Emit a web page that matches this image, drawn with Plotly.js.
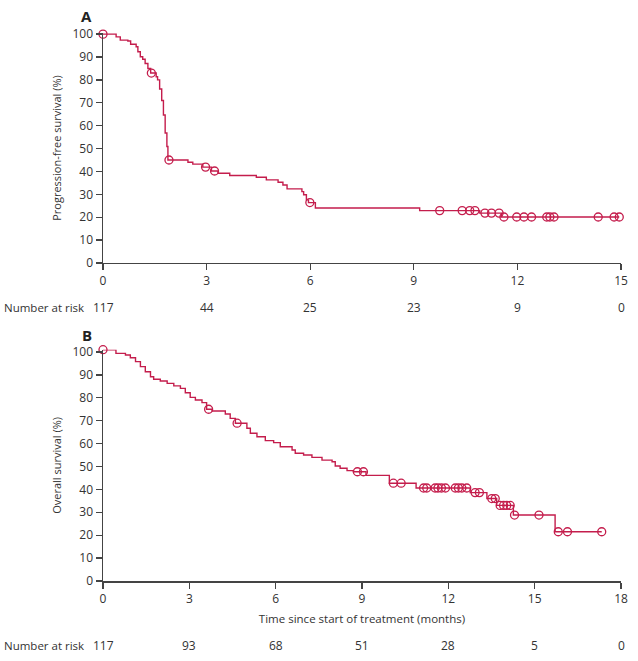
<!DOCTYPE html>
<html>
<head>
<meta charset="utf-8">
<script src="https://cdn.plot.ly/plotly-3.0.1.min.js"></script>
<style>
  html, body { margin: 0; padding: 0; background: #fff; }
  #chart { width: 638px; height: 661px; }
</style>
</head>
<body>
<div id="chart"></div>
<script>
// A: progression-free survival, step points
const pfsTime = [0, 0.38, 0.50, 0.72, 0.80, 0.96, 1.01, 1.08, 1.15, 1.22, 1.30, 1.38, 1.54, 1.58, 1.64, 1.70, 1.75, 1.80, 1.85, 1.88,
                 2.46, 2.60, 2.89, 3.14, 3.33, 3.67, 4.44, 4.73, 5.07, 5.21, 5.33, 5.76, 5.81, 5.89, 5.95, 6.15, 9.17, 10.91, 11.54];
const pfsSurv = [100, 98.8, 97.4, 97.0, 95.6, 94.5, 92.3, 90.1, 89.0, 87.2, 85.0, 83.0, 81.4, 80.0, 76.0, 71.0, 64.7, 56.8, 50.9, 45.0,
                 44.0, 43.2, 41.9, 40.2, 39.2, 38.2, 37.5, 36.3, 35.3, 34.1, 32.4, 31.2, 29.8, 27.6, 26.4, 24.0, 22.9, 21.8, 20.1];
const pfsCensorTime = [0, 1.40, 1.91, 2.97, 3.23, 5.99, 9.75, 10.40, 10.62, 10.77, 11.06, 11.25, 11.47, 11.61,
                       11.98, 12.19, 12.41, 12.85, 12.94, 13.06, 14.34, 14.80, 14.95];
const pfsCensorSurv = [100, 83.0, 45.0, 41.9, 40.2, 26.4, 22.9, 22.9, 22.9, 22.9, 21.8, 21.8, 21.8, 20.1,
                       20.1, 20.1, 20.1, 20.1, 20.1, 20.1, 20.1, 20.1, 20.1];
const pfsTicks = [0, 3, 6, 9, 12, 15];
const pfsAtRisk = [117, 44, 25, 23, 9, 0];

// B: overall survival
const osTime = [0, 0.45, 0.78, 0.95, 1.13, 1.30, 1.47, 1.65, 1.76, 1.99, 2.23, 2.46, 2.69, 2.86, 3.03, 3.21, 3.44, 3.60, 3.79,
                4.25, 4.42, 4.60, 5.00, 5.12, 5.35, 5.64, 5.93, 6.16, 6.57, 6.68, 6.97, 7.26, 7.61, 7.96, 8.07, 8.24, 8.48,
                8.70, 9.14, 9.95, 10.88, 12.76, 13.34, 13.68, 14.26, 15.71];
const osSurv = [101, 99.4, 98.7, 97.5, 95.8, 93.6, 91.4, 89.2, 88.1, 87.3, 86.3, 85.2, 84.1, 82.2, 80.2, 79.0, 77.9, 75.0, 74.2,
                72.9, 71.0, 68.9, 66.7, 64.5, 63.0, 61.3, 60.4, 58.6, 57.2, 55.8, 55.0, 54.0, 52.8, 52.1, 50.2, 49.2, 48.2,
                47.7, 46.1, 42.7, 40.6, 38.6, 36.0, 33.0, 28.8, 21.5];
const osCensorTime = [0, 3.67, 4.66, 8.84, 9.05, 10.09, 10.36, 11.14, 11.25, 11.54, 11.64, 11.76, 11.90, 12.24, 12.35, 12.47, 12.64,
                      12.93, 13.08, 13.51, 13.63, 13.80, 13.92, 14.03, 14.15, 14.30, 15.15, 15.82, 16.14, 17.33];
const osCensorSurv = [101, 75.0, 68.9, 47.7, 47.7, 42.7, 42.7, 40.6, 40.6, 40.6, 40.6, 40.6, 40.6, 40.6, 40.6, 40.6, 40.6,
                      38.6, 38.6, 36.0, 36.0, 33.0, 33.0, 33.0, 33.0, 28.8, 28.8, 21.5, 21.5, 21.5];
const osTicks = [0, 3, 6, 9, 12, 15, 18];
const osAtRisk = [117, 93, 68, 51, 28, 5, 0];

const red = '#c41d4c';
const ink = '#333333';
const font = 'Open Sans, sans-serif';

function kmTraces(t, s, ct, cs, xa, ya) {
    // carry the last level out to the final censored patient
    const lastT = Math.max(...ct);
    return [
        {
            x: t.concat([lastT]), y: s.concat([s[s.length - 1]]),
            xaxis: xa, yaxis: ya, type: 'scatter', mode: 'lines',
            line: {color: red, width: 1.4, shape: 'hv'}, hoverinfo: 'skip'
        },
        {
            x: ct, y: cs, xaxis: xa, yaxis: ya, type: 'scatter', mode: 'markers',
            marker: {symbol: 'circle-open', size: 8, color: red, line: {color: red, width: 1.3}},
            cliponaxis: false
        }
    ];
}

const data = [
    ...kmTraces(pfsTime, pfsSurv, pfsCensorTime, pfsCensorSurv, 'x', 'y'),
    ...kmTraces(osTime, osSurv, osCensorTime, osCensorSurv, 'x2', 'y2')
];

const axisBase = {
    showline: true, linecolor: '#444', linewidth: 1.5,
    ticks: 'outside', ticklen: 6, tickwidth: 1.3, tickcolor: '#444',
    showgrid: false, zeroline: false, fixedrange: true,
    tickfont: {family: font, size: 12, color: ink}
};

const annotations = [];
pfsTicks.forEach((t, i) => annotations.push({
    x: t, xref: 'x', y: 0.5, yref: 'paper', text: String(pfsAtRisk[i]),
    showarrow: false, xanchor: 'center', yanchor: 'middle', font: {family: font, size: 12, color: ink}
}));
osTicks.forEach((t, i) => annotations.push({
    x: t, xref: 'x2', y: -0.117, yref: 'paper', text: String(osAtRisk[i]),
    showarrow: false, xanchor: 'center', yanchor: 'middle', font: {family: font, size: 12, color: ink}
}));
[0.5, -0.117].forEach(y => annotations.push({
    x: -0.033, xref: 'paper', y: y, yref: 'paper', text: 'Number at risk',
    showarrow: false, xanchor: 'right', yanchor: 'middle', font: {family: font, size: 11.5, color: ink}
}));
annotations.push({x: -0.031, xref: 'paper', y: 1.031, yref: 'paper', text: '<b>A</b>', showarrow: false,
    xanchor: 'center', yanchor: 'middle', font: {family: font, size: 15, color: '#222'}});
annotations.push({x: -0.031, xref: 'paper', y: 0.449, yref: 'paper', text: '<b>B</b>', showarrow: false,
    xanchor: 'center', yanchor: 'middle', font: {family: font, size: 15, color: '#222'}});

const layout = {
    width: 638, height: 661,
    margin: {l: 103, r: 17, t: 33, b: 80},
    paper_bgcolor: '#fff', plot_bgcolor: '#fff',
    showlegend: false,
    xaxis: {...axisBase, anchor: 'y', range: [0, 15], tickvals: pfsTicks},
    yaxis: {...axisBase, domain: [0.5803, 1], range: [0, 100.5], tickvals: [0, 10, 20, 30, 40, 50, 60, 70, 80, 90, 100],
            title: {text: 'Progression-free survival (%)', standoff: 8, font: {family: font, size: 11, color: ink}}},
    xaxis2: {...axisBase, anchor: 'y2', range: [0, 18], tickvals: osTicks,
             title: {text: 'Time since start of treatment (months)', standoff: 9, font: {family: font, size: 11.5, color: ink}}},
    yaxis2: {...axisBase, domain: [0, 0.4221], range: [0, 101], tickvals: [0, 10, 20, 30, 40, 50, 60, 70, 80, 90, 100],
             title: {text: 'Overall survival (%)', standoff: 8, font: {family: font, size: 11, color: ink}}},
    annotations: annotations
};

Plotly.newPlot('chart', data, layout, {displayModeBar: false, staticPlot: true});
</script>
</body>
</html>
